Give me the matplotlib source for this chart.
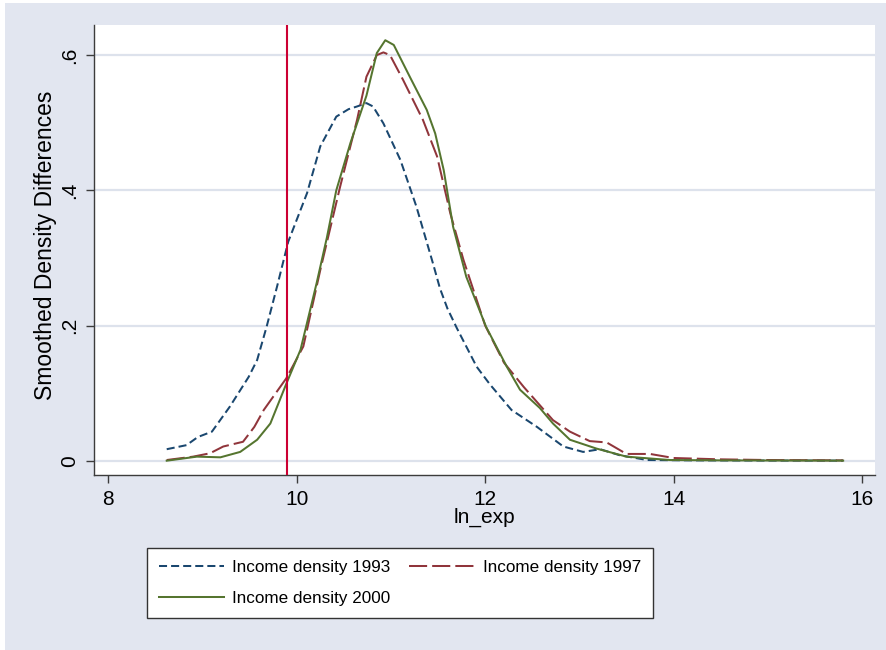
import matplotlib
matplotlib.use("Agg")
import matplotlib.pyplot as plt
from matplotlib import font_manager
from matplotlib.patches import Rectangle

# ---------------- data ----------------
x_1993 = [8.62, 8.83, 8.95, 9.10, 9.29, 9.49, 9.58, 9.68, 9.79, 9.91, 10.11, 10.25, 10.42,
          10.55, 10.64, 10.74, 10.81, 10.92, 11.10, 11.27, 11.45, 11.52, 11.60, 11.70, 11.91,
          12.05, 12.28, 12.55, 12.83, 13.04, 13.22, 13.43, 13.72, 14.2, 15.0, 15.8]
y_1993 = [0.017, 0.023, 0.035, 0.043, 0.080, 0.124, 0.149, 0.198, 0.257, 0.324, 0.396, 0.465, 0.509,
          0.520, 0.524, 0.529, 0.524, 0.499, 0.445, 0.376, 0.290, 0.255, 0.225, 0.196, 0.139,
          0.113, 0.075, 0.050, 0.021, 0.013, 0.017, 0.008, 0.001, 0.0005, 0.0002, 0.0001]

x_1997 = [8.62, 8.90, 9.08, 9.22, 9.43, 9.55, 9.65, 9.89, 10.07, 10.25, 10.46, 10.64, 10.74,
          10.85, 10.92, 10.99, 11.13, 11.34, 11.49, 11.63, 11.77, 12.00, 12.20, 12.41, 12.72,
          12.90, 13.11, 13.29, 13.50, 13.75, 14.0, 14.5, 15.0, 15.8]
y_1997 = [0.001, 0.006, 0.011, 0.021, 0.028, 0.050, 0.075, 0.122, 0.169, 0.282, 0.405, 0.504, 0.568,
          0.600, 0.604, 0.600, 0.563, 0.504, 0.450, 0.366, 0.297, 0.200, 0.145, 0.109, 0.060,
          0.043, 0.029, 0.027, 0.010, 0.010, 0.004, 0.002, 0.001, 0.0005]

x_2000 = [8.62, 8.94, 9.19, 9.40, 9.58, 9.72, 9.89, 10.04, 10.21, 10.32, 10.42, 10.57, 10.74,
          10.85, 10.94, 11.03, 11.20, 11.38, 11.47, 11.56, 11.66, 11.80, 12.01, 12.23, 12.37,
          12.58, 12.72, 12.90, 13.18, 13.50, 13.96, 14.5, 15.0, 15.8]
y_2000 = [0.000, 0.006, 0.005, 0.013, 0.031, 0.055, 0.114, 0.164, 0.262, 0.330, 0.400, 0.470, 0.540,
          0.603, 0.622, 0.615, 0.568, 0.519, 0.484, 0.430, 0.346, 0.272, 0.198, 0.139, 0.105,
          0.078, 0.055, 0.031, 0.018, 0.006, 0.001, 0.0005, 0.0003, 0.0001]

vline_x = 9.9
x_ticks = [8, 10, 12, 14, 16]
y_ticks = [0, 0.2, 0.4, 0.6]
y_ticklabels = ["0", ".2", ".4", ".6"]
labels = ["Income density 1993", "Income density 1997", "Income density 2000"]
x_label = "ln_exp"
y_label = "Smoothed Density Differences"

# ---------------- style ----------------
def has_font(name):
    try:
        font_manager.findfont(font_manager.FontProperties(family=name), fallback_to_default=False)
        return True
    except Exception:
        return False

base_font = "Liberation Sans" if has_font("Liberation Sans") else "DejaVu Sans"
plt.rcParams['font.family'] = [base_font, "DejaVu Sans"]

bg = "#E2E6F0"
grid_c = "#DDE2EC"
c93, c97, c00 = "#1A476F", "#90353B", "#55752F"
red = "#CC0033"

W, H = 886, 650
fig = plt.figure(figsize=(W / 100, H / 100), dpi=100, facecolor="white")
fig.patches.append(Rectangle((5 / W, 0), 1, 1 - 3 / H, transform=fig.transFigure,
                             facecolor=bg, edgecolor="none", zorder=-10))

ax = fig.add_axes([94 / W, (H - 475) / H, (875 - 94) / W, (475 - 25) / H])
ax.set_facecolor("white")

x0_px, x_per = 108.3, 94.2
ax.set_xlim(8 - (x0_px - 94) / x_per, 16 + (875 - 862) / x_per)
ax.set_ylim(-(475 - 460.7) / 676.0, (460.7 - 25) / 676.0)

for yt in y_ticks:
    ax.axhline(yt, color=grid_c, lw=1.6, zorder=0)

lw = 1.45
ax.plot(x_1993, y_1993, color=c93, lw=lw, ls=(0, (4, 2)), label=labels[0], zorder=3)
ax.plot(x_1997, y_1997, color=c97, lw=lw, ls=(0, (9, 2.5)), label=labels[1], zorder=3)
ax.plot(x_2000, y_2000, color=c00, lw=lw, ls="-", label=labels[2], zorder=4)
ax.axvline(vline_x, color=red, lw=1.5, zorder=5)

for s in ["top", "right"]:
    ax.spines[s].set_visible(False)
for s in ["left", "bottom"]:
    ax.spines[s].set_color("#3C3C3C")
    ax.spines[s].set_linewidth(1.0)

ax.set_xticks(x_ticks)
ax.set_xticklabels([str(t) for t in x_ticks])
ax.set_yticks(y_ticks)
ax.set_yticklabels(y_ticklabels, rotation=90, va="center")
ax.tick_params(axis="both", direction="out", length=5.8, width=1.0, color="#3C3C3C",
               labelsize=15, pad=5.0, labelcolor="black")

ax.set_xlabel(x_label, fontsize=15)
ax.xaxis.set_label_coords(0.5, -(508 - 475) / 450)
ax.set_ylabel(y_label, fontsize=16.5)
ax.yaxis.set_label_coords((57 - 94) / 781, (475 - 245.5) / 450)

handles, labs = ax.get_legend_handles_labels()
order = [0, 2, 1]  # column-major for ncol=2 -> row1: 1993, 1997 ; row2: 2000
leg = fig.legend([handles[i] for i in order], [labs[i] for i in order],
                 loc="upper left", bbox_to_anchor=(147 / W, 1 - 548 / H),
                 ncol=2, frameon=True, fancybox=False, shadow=False, framealpha=1.0,
                 prop={"size": 12.3},
                 handlelength=3.8, handletextpad=0.5, columnspacing=1.1,
                 labelspacing=0.95, borderpad=0.7, borderaxespad=0)
leg.get_frame().set_edgecolor("#333333")
leg.get_frame().set_linewidth(1.0)
leg.get_frame().set_facecolor("white")

fig.savefig("out.png", dpi=100, facecolor=fig.get_facecolor())
